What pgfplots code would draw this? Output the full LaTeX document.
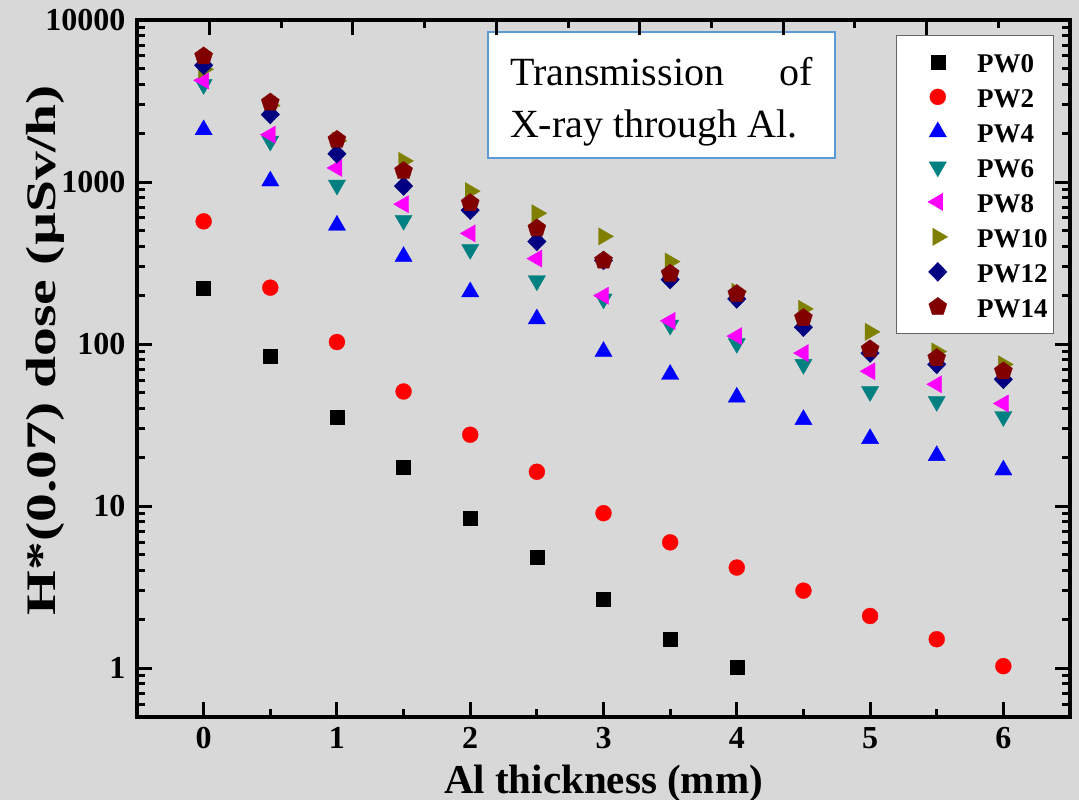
\documentclass[border=0pt]{standalone}
\usepackage{fontspec}
\setmainfont{Liberation Serif}
\usepackage{graphicx}
\usepackage{pgfplots}
\pgfplotsset{compat=1.18}
\definecolor{bg}{RGB}{216,216,216}
\definecolor{boxblue}{RGB}{91,155,213}
\definecolor{cteal}{RGB}{0,128,128}
\definecolor{colive}{RGB}{128,128,0}
\definecolor{cnavy}{RGB}{0,0,128}
\definecolor{cmaroon}{RGB}{128,0,0}
\definecolor{cmagenta}{RGB}{255,0,255}
\definecolor{cred}{RGB}{255,0,0}
\definecolor{cblue}{RGB}{0,0,255}
\begin{document}
\begin{tikzpicture}
\fill[bg] (-137pt,-83pt) rectangle (942pt,717pt);
\useasboundingbox (-137pt,-83pt) rectangle (942pt,717pt);
\begin{axis}[
  at={(0pt,0pt)}, anchor=south west,
  width=933pt, height=697pt, scale only axis,
  ymode=log, xmin=-0.5, xmax=6.5, ymin=0.5, ymax=10000,
  xtick={0,1,2,3,4,5,6}, minor x tick num=1, xtick pos=left,
  ytick={1,10,100,1000,10000}, yticklabels={1,10,100,1000,10000},
  minor ytick={0.5,0.6,0.7,0.8,0.9,2,3,4,5,6,7,8,9,20,30,40,50,60,70,80,90,200,300,400,500,600,700,800,900,2000,3000,4000,5000,6000,7000,8000,9000},
  ytick pos=both,
  tick align=inside,
  major tick length=15pt, minor tick length=8pt,
  every tick/.style={black, line width=3pt},
  axis line style={line width=3.5pt},
  /pgf/number format/assume math mode=true,
  tick label style={font=\bfseries\fontsize{32}{36}\selectfont},
  xticklabel style={yshift=-7pt},
  yticklabel style={xshift=-8pt},
  xlabel={Al thickness (mm)},
  xlabel style={at={(axis description cs:0.5,0)}, anchor=base, yshift=-76pt, font=\bfseries\fontsize{41}{44}\selectfont},
  ylabel={\scalebox{1.37}[1]{H*(0.07) dose (µSv/h)}},
  ylabel style={at={(axis description cs:-0.0986,0.5265)}, anchor=center, font=\bfseries\fontsize{42}{44}\selectfont},
  legend style={at={(rel axis cs:0.8135,0.9785)}, anchor=north west, draw=black!60, line width=0.8pt, fill=white,
    font=\bfseries\fontsize{27}{30}\selectfont, inner xsep=6pt, inner ysep=13.5pt, row sep=9pt, column sep=10pt,
    nodes={inner sep=0pt, text height=24pt, text depth=2pt}},
  legend cell align=left,
  legend image code/.code={\path (0pt,0pt) (64pt,0pt); \draw[#1, only marks] plot coordinates {(35pt,0pt)};},
]
\addplot[only marks, mark=square*, mark size=7pt, color=black, mark options={line width=0.3pt}] coordinates {
(0,223) (0.5,84) (1,35.2) (1.5,17.5) (2,8.42) (2.5,4.82) (3,2.68) (3.5,1.51) (4,1.01)};
\addlegendentry{PW0}
\addplot[only marks, mark=*, mark size=8pt, color=cred, mark options={line width=0.3pt}] coordinates {
(0,572) (0.5,223) (1,103) (1.5,51) (2,27.6) (2.5,16.3) (3,9.05) (3.5,5.98) (4,4.18) (4.5,3.01) (5,2.10) (5.5,1.51) (6,1.03)};
\addlegendentry{PW2}
\addplot[only marks, mark=triangle*, mark size=10pt, color=cblue, mark options={line width=0.3pt}] coordinates {
(0,2100) (0.5,1014) (1,541) (1.5,347) (2,210) (2.5,143) (3,90) (3.5,65) (4,47) (4.5,34.2) (5,26.1) (5.5,20.5) (6,16.7)};
\addlegendentry{PW4}
\addplot[only marks, mark=triangle*, mark size=10pt, color=cteal, mark options={rotate=180, line width=0.3pt}] coordinates {
(0,4000) (0.5,1790) (1,958) (1.5,581) (2,384) (2.5,246) (3,190) (3.5,131) (4,101) (4.5,75) (5,51) (5.5,44.3) (6,35.7)};
\addlegendentry{PW6}
\addplot[only marks, mark=triangle*, mark size=10pt, color=cmagenta, mark options={rotate=90, line width=0.3pt}] coordinates {
(0,4240) (0.5,1960) (1,1222) (1.5,730) (2,482) (2.5,337) (3,199) (3.5,139) (4,112) (4.5,88) (5,68) (5.5,56.5) (6,43)};
\addlegendentry{PW8}
\addplot[only marks, mark=triangle*, mark size=10pt, color=colive, mark options={rotate=-90, line width=0.3pt}] coordinates {
(0,4960) (0.5,2965) (1,1797) (1.5,1350) (2,879) (2.5,642) (3,462) (3.5,323) (4,210) (4.5,165) (5,119) (5.5,90) (6,75)};
\addlegendentry{PW10}
\addplot[only marks, mark=diamond*, mark size=9.5pt, color=cnavy, mark options={xscale=1.3, line width=0.3pt}] coordinates {
(0,5250) (0.5,2610) (1,1493) (1.5,944) (2,670) (2.5,430) (3,328) (3.5,250) (4,190) (4.5,127) (5,88) (5.5,75) (6,60.6)};
\addlegendentry{PW12}
\addplot[only marks, mark=pentagon*, mark size=9.5pt, color=cmaroon, mark options={line width=0.3pt}] coordinates {
(0,5970) (0.5,3100) (1,1824) (1.5,1170) (2,741) (2.5,518) (3,328) (3.5,272) (4,204) (4.5,145) (5,93) (5.5,82) (6,68)};
\addlegendentry{PW14}
\node[draw=boxblue, line width=2pt, fill=white, text width=303pt, inner xsep=22pt, inner ysep=0pt,
  anchor=north west, align=justify, font=\fontsize{40}{52}\selectfont]
  at (rel axis cs:0.37513,0.98422) {\rule{0pt}{54pt}Transmission of X-ray through Al.\rule[-20pt]{0pt}{20pt}};
\end{axis}
\begin{axis}[
  at={(0pt,0pt)}, anchor=south west,
  width=933pt, height=697pt, scale only axis,
  xmin=-0.5, xmax=6.5, ymin=0, ymax=1,
  hide y axis, axis x line*=top, x axis line style={draw=none},
  xtick={0.045,1.1205,2.196,3.271,4.347,5.422},
  minor xtick={0.583,1.658,2.734,3.809,4.884,5.960},
  xticklabels={}, tick align=inside,
  major tick length=15pt, minor tick length=8pt,
  every tick/.style={black, line width=3pt},
]
\addplot[draw=none] coordinates {(0,0.5)};
\end{axis}
\end{tikzpicture}
\end{document}
